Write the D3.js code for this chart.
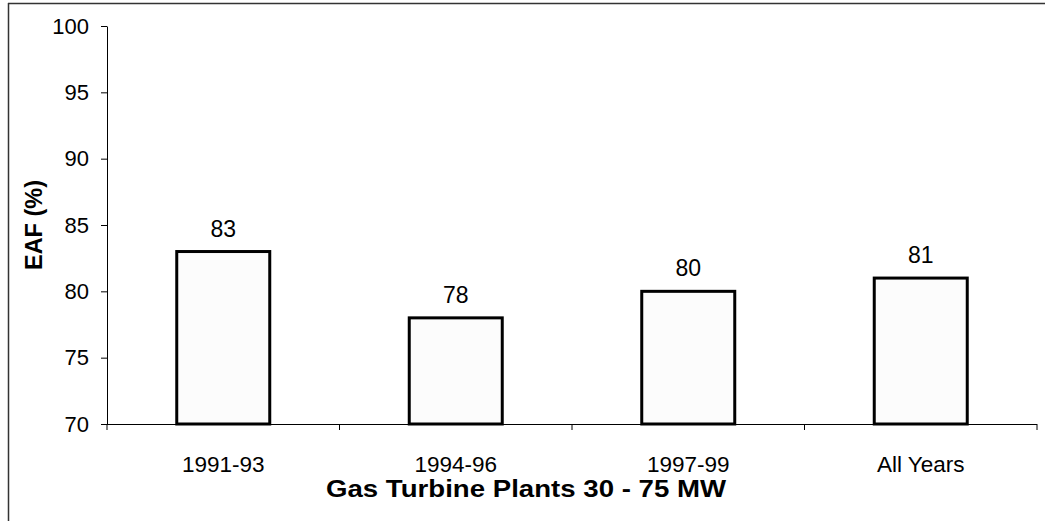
<!DOCTYPE html>
<html>
<head>
<meta charset="utf-8">
<script src="https://cdn.jsdelivr.net/npm/d3@7"></script>
<style>
  body { margin:0; background:#fff; }
  svg { display:block; font-family:"Liberation Sans", Arial, sans-serif; }
</style>
</head>
<body>
<div id="chart"></div>
<script>
var categories = ["1991-93","1994-96","1997-99","All Years"];
var eafValues = [83, 78, 80, 81];
var yTicks = [70, 75, 80, 85, 90, 95, 100];

var W = 1045, H = 521;
var m = {t:26, r:8, b:97, l:107};

var svg = d3.select("#chart")
  .append("svg")
  .attr("width", W)
  .attr("height", H);

// frame lines (top + left) like the scanned page
svg.append("line")
  .attr("x1", 8).attr("x2", W).attr("y1", 3.5).attr("y2", 3.5)
  .attr("stroke", "#333").attr("stroke-width", 1.5);
svg.append("line")
  .attr("x1", 8.5).attr("x2", 8.5).attr("y1", 3).attr("y2", H)
  .attr("stroke", "#333").attr("stroke-width", 1.5);

var scaleX = d3.scaleBand()
  .domain(categories)
  .range([m.l, W - m.r])
  .paddingInner(0.6)
  .paddingOuter(0.3);

var scaleY = d3.scaleLinear()
  .domain([70, 100])
  .range([H - m.b, m.t]);

// y axis
var axisY = d3.axisLeft(scaleY)
  .tickValues(yTicks)
  .tickSize(6)
  .tickSizeOuter(0);

svg.append("g")
  .attr("transform", "translate(" + m.l + ",0)")
  .call(axisY)
  .call(function(g){
    g.selectAll("text")
      .attr("font-size", "22px")
      .attr("fill", "#000")
      .attr("x", -18)
      .attr("font-family", "Liberation Sans, Arial, sans-serif");
    g.selectAll("line").attr("stroke", "#000");
    g.select(".domain").attr("stroke", "#000");
  });

// x axis: ticks at category boundaries
var step = scaleX.step();
var bounds = d3.range(categories.length + 1).map(function(i){
  return scaleX(categories[0]) - scaleX.paddingOuter() * step + i * step;
});
var xg = svg.append("g").attr("class", "x-axis");
xg.append("line")
  .attr("x1", m.l).attr("x2", W - m.r)
  .attr("y1", scaleY(70) + 0.5).attr("y2", scaleY(70) + 0.5)
  .attr("stroke", "#000");
xg.selectAll(".xtick")
  .data(bounds)
  .enter()
  .append("line")
  .attr("class", "xtick")
  .attr("x1", function(d){ return d; })
  .attr("x2", function(d){ return d; })
  .attr("y1", scaleY(70))
  .attr("y2", scaleY(70) + 6)
  .attr("stroke", "#000");

xg.selectAll(".xlabel")
  .data(categories)
  .enter()
  .append("text")
  .attr("class", "xlabel")
  .attr("x", function(d){ return scaleX(d) + scaleX.bandwidth()/2; })
  .attr("y", 472)
  .attr("text-anchor", "middle")
  .attr("font-size", "22.5px")
  .text(function(d){ return d; });

// bars
svg.selectAll(".bar")
  .data(eafValues)
  .enter()
  .append("rect")
  .attr("class", "bar")
  .attr("x", function(d, i){ return scaleX(categories[i]); })
  .attr("y", function(d){ return scaleY(d); })
  .attr("width", scaleX.bandwidth())
  .attr("height", function(d){ return scaleY(70) - scaleY(d); })
  .attr("fill", "#fcfcfc")
  .attr("stroke", "#000")
  .attr("stroke-width", 3);

// value labels
svg.selectAll(".val")
  .data(eafValues)
  .enter()
  .append("text")
  .attr("class", "val")
  .attr("x", function(d, i){ return scaleX(categories[i]) + scaleX.bandwidth()/2; })
  .attr("y", function(d){ return scaleY(d) - 15; })
  .attr("text-anchor", "middle")
  .attr("font-size", "23px")
  .text(function(d){ return d; });

// axis titles
svg.append("text")
  .attr("x", 526)
  .attr("y", 497)
  .attr("text-anchor", "middle")
  .attr("font-size", "24px")
  .attr("font-weight", "bold")
  .attr("textLength", 400)
  .attr("lengthAdjust", "spacingAndGlyphs")
  .text("Gas Turbine Plants 30 - 75 MW");

svg.append("text")
  .attr("transform", "translate(42,225) rotate(-90)")
  .attr("text-anchor", "middle")
  .attr("font-size", "23.5px")
  .attr("font-weight", "bold")
  .text("EAF (%)");
</script>
</body>
</html>
